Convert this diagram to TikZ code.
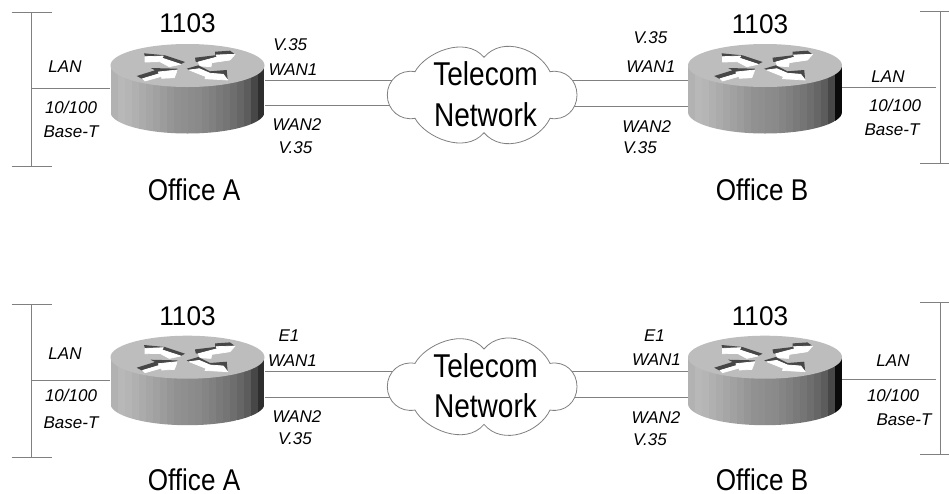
\documentclass[tikz,border=0pt]{standalone}
\usepackage{fontspec}
\setmainfont{Liberation Sans}
\definecolor{wiregray}{HTML}{808080}
\definecolor{topgray}{HTML}{BDBDBD}
\tikzset{
  wire/.style={draw=wiregray,line width=0.9pt},
  cloudline/.style={draw=wiregray,line width=0.8pt,fill=white},
  arrowface/.style={fill=white,draw=white,line width=.7pt,line join=round},
  arrowedge/.style={fill=black!72},
  portlabel/.style={anchor=base,inner sep=0pt,font=\fontsize{17}{17}\selectfont\itshape},
  modellabel/.style={anchor=base,inner sep=0pt,font=\fontsize{27}{27}\selectfont,transform shape,xscale=.97},
  officelabel/.style={anchor=base,inner sep=0pt,text depth=0pt,font=\fontsize{30}{30}\selectfont,transform shape,xscale=.87},
  netlabel/.style={anchor=base,inner sep=0pt,font=\fontsize{33}{33}\selectfont,transform shape,xscale=.85},
  routerbox/.style={inner sep=0pt,minimum width=154pt,minimum height=89.5pt},
  cloudbox/.style={inner sep=0pt,minimum width=190pt,minimum height=95pt},
  routerpic/.pic={
    \path[clip] (-77,0) -- (-77,46.5) .. controls (-77,58.4) and (-42.5,68) .. (0,68)
       .. controls (42.5,68) and (77,58.4) .. (77,46.5) -- (77,0) -- cycle;
    \foreach \v [count=\i from 0] in {70,72,71,69,67,65,63,61,59,57,56,55,54,52,50,48,46,43,40,36,28,#1}{
      \fill[white!\v!black] ({-77+\i*7},0) rectangle ({-77+(\i+1)*7+.3},70);
    }
    },
  routertop/.pic={
    \fill[topgray] (0,0) ellipse [x radius=77pt,y radius=21.5pt];
    \fill[arrowedge] (-43.5,-12.2)--(-42.5,-8.8)--(-24.2,-9.5)--(-25.8,-7.5)--(-6.8,-1.2)--(-2.5,-3.5)--(-22.5,-10.2)--cycle;
    \path[arrowface] (-42.5,-8.8)--(-42.5,-3.5)--(-27.5,-3.8)--(-18.2,1.2)--(-6.8,-1.2)--(-25.8,-7.5)--(-24.2,-9.5)--cycle;
    \fill[arrowedge] (7.5,-7.8)--(8.2,-3.8)--(10.8,-3.5)--(29.8,-8.5)--(28.5,-10.5)--(47.5,-11.2)--(42.5,-14.8)--(27.5,-13.8)--(27.5,-10.2)--cycle;
    \path[arrowface] (12.5,.5)--(23.5,1.2)--(24.2,-2.8)--(42.5,-5.5)--(47.5,-11.2)--(28.5,-10.5)--(29.8,-8.5)--(10.8,-3.5)--cycle;
    \fill[arrowedge] (-50.8,10.5)--(-45.8,13.2)--(-28.2,8.2)--(-29.2,6.5)--(-10.2,5.8)--(-10.2,3.2)--(-36.8,2.5)--(-32.5,4.8)--cycle;
    \path[arrowface] (-44.8,13.2)--(-42.5,15.5)--(-25.8,10.8)--(-25.8,12.8)--(-13.2,12.2)--(-10.2,4.5)--(-29.2,6.5)--(-28.2,8.2)--cycle;
    \fill[arrowedge] (-.8,3.2)--(1.8,4.5)--(11.8,3.2)--(22.5,7.8)--(35.8,8.8)--(40.2,14.5)--(39.2,4.5)--(22.5,5.8)--(10.8,-.2)--cycle;
    \path[arrowface] (1.8,4.5)--(11.8,3.2)--(22.5,7.8)--(35.8,8.8)--(40.2,14.5)--(17.5,13.2)--(18.5,11.2)--cycle;
  },
  cloudpic/.pic={
    \path[cloudline] (-70,-23.3) .. controls (-60,-42) and (-20,-60) .. (-1,-37.7)
      .. controls (18,-60) and (55,-45) .. (65,-23.3)
      .. controls (80,-26) and (92,-15) .. (92,0)
      .. controls (92,15) and (80,26) .. (65,23.3)
      .. controls (55,45) and (18,60) .. (-1,37.7)
      .. controls (-20,60) and (-60,42) .. (-70,23.3)
      .. controls (-85,26) and (-97.7,15) .. (-97.7,0)
      .. controls (-97.7,-15) and (-85,-26) .. (-70,-23.3) -- cycle;
  }
}
\begin{document}
\begin{tikzpicture}[x=1pt,y=-1pt]
\useasboundingbox[fill=white] (0,0) rectangle (949,493);
% anchor nodes
\node[routerbox] (R1) at (187.5,88.75) {};
\node[routerbox] (R2) at (765,88.75) {};
\node[routerbox] (R3) at (187.5,380.45) {};
\node[routerbox] (R4) at (765,380.45) {};
\node[cloudbox] (C1) at (485,95) {};
\node[cloudbox] (C2) at (485,386.7) {};
% free ends
\coordinate (b1t) at (31.7,12.7);\coordinate (b1b) at (31.7,166);\coordinate (b1m) at (31.7,88.7);
\coordinate (b1tl) at (11.5,12.7);\coordinate (b1tr) at (52,12.7);\coordinate (b1bl) at (11.5,166);\coordinate (b1br) at (52,166);
\coordinate (b3t) at (31.7,304.3);\coordinate (b3b) at (31.7,457.7);\coordinate (b3m) at (31.7,380.3);
\coordinate (b3tl) at (11.5,304.3);\coordinate (b3tr) at (52,304.3);\coordinate (b3bl) at (11.5,457.7);\coordinate (b3br) at (52,457.7);
\coordinate (b2t) at (940,11);\coordinate (b2b) at (940,163.3);\coordinate (b2m) at (936,87.3);
\coordinate (b2tl) at (920,11);\coordinate (b2tr) at (949,11);\coordinate (b2bl) at (920,163.3);\coordinate (b2br) at (949,163.3);
\coordinate (b4t) at (940,302.7);\coordinate (b4b) at (940,454.3);\coordinate (b4m) at (936,379);
\coordinate (b4tl) at (920,302.7);\coordinate (b4tr) at (949,302.7);\coordinate (b4bl) at (920,454.3);\coordinate (b4br) at (949,454.3);
\coordinate (c1a) at (410,80.3);\coordinate (c1b) at (410,105.3);\coordinate (c1c) at (560,80.3);\coordinate (c1d) at (560,106);
\coordinate (c2a) at (410,371.7);\coordinate (c2b) at (410,397.3);\coordinate (c2c) at (560,371.7);\coordinate (c2d) at (560,397.3);
% bars
\foreach \n in {1,2,3,4}{
  \draw[wire] (b\n t) -- (b\n b);
  \draw[wire] (b\n tl) -- (b\n tr);
  \draw[wire] (b\n bl) -- (b\n br);
}
% connectors
\draw[wire] (b1m) -- (b1m -| R1.west);
\draw[wire] (b3m) -- (b3m -| R3.west);
\draw[wire] (b2m) -- (b2m -| R2.east);
\draw[wire] (b4m) -- (b4m -| R4.east);
\draw[wire] (c1a) -- (c1a -| R1.east);
\draw[wire] (c1b) -- (c1b -| R1.east);
\draw[wire] (c1c) -- (c1c -| R2.west);
\draw[wire] (c1d) -- (c1d -| R2.west);
\draw[wire] (c2a) -- (c2a -| R3.east);
\draw[wire] (c2b) -- (c2b -| R3.east);
\draw[wire] (c2c) -- (c2c -| R4.west);
\draw[wire] (c2d) -- (c2d -| R4.west);
% clouds
\pic at (485,95) {cloudpic};
\pic at (485,386.7) {cloudpic};
% routers
\pic at (187.5,65.5) {routerpic=18};
\pic at (765,65.5) {routerpic=4};
\pic at (187.5,357.2) {routerpic=18};
\pic at (765,357.2) {routerpic=4};
\pic at (187.5,65.5) {routertop};
\pic at (765,65.5) {routertop};
\pic at (187.5,357.2) {routertop};
\pic at (765,357.2) {routertop};
% network text
\node[netlabel] (t1) at (485.5,85.7) {Telecom};
\node[netlabel] (t2) at (485.5,126) {Network};
\node[netlabel] (t3) at (485.5,377.4) {Telecom};
\node[netlabel] (t4) at (485.5,417.7) {Network};
% models
\node[modellabel] (m1) at (187.5,32.7) {1103};
\node[modellabel] (m2) at (760,33.3) {1103};
\node[modellabel] (m3) at (187.5,325) {1103};
\node[modellabel] (m4) at (760,325) {1103};
% offices
\node[officelabel] (o1) at (194,200) {Office A};
\node[officelabel] (o2) at (762,200) {Office B};
\node[officelabel] (o3) at (194,490) {Office A};
\node[officelabel] (o4) at (762,490.7) {Office B};
% top-left
\node[portlabel] (a1) at (65,72.7) {LAN};
\node[portlabel] (a2) at (71,113.3) {10/100};
\node[portlabel] (a3) at (71,137.3) {Base-T};
\node[portlabel] (a4) at (290.3,50.7) {V.35};
\node[portlabel] (a5) at (293,75) {WAN1};
\node[portlabel] (a6) at (297,130) {WAN2};
\node[portlabel] (a7) at (295.5,153.3) {V.35};
% top-right
\node[portlabel] (l1) at (888,82.3) {LAN};
\node[portlabel] (l2) at (895,111) {10/100};
\node[portlabel] (l3) at (892,135) {Base-T};
\node[portlabel] (l4) at (650.5,43.3) {V.35};
\node[portlabel] (l5) at (650.8,72.7) {WAN1};
\node[portlabel] (l6) at (646.7,132.7) {WAN2};
\node[portlabel] (l7) at (640,153.3) {V.35};
% lower-left
\node[portlabel] (d1) at (65,359.3) {LAN};
\node[portlabel] (d2) at (71,401) {10/100};
\node[portlabel] (d3) at (71,428.3) {Base-T};
\node[portlabel] (d4) at (289,341.7) {E1};
\node[portlabel] (d5) at (292.5,366) {WAN1};
\node[portlabel] (d6) at (297,422.7) {WAN2};
\node[portlabel] (d7) at (295,444.3) {V.35};
% lower-right
\node[portlabel] (e1) at (893,366.7) {LAN};
\node[portlabel] (e2) at (893,401.7) {10/100};
\node[portlabel] (e3) at (904,425) {Base-T};
\node[portlabel] (e4) at (654.5,341.7) {E1};
\node[portlabel] (e5) at (656.5,365) {WAN1};
\node[portlabel] (e6) at (656,423.3) {WAN2};
\node[portlabel] (e7) at (650,445) {V.35};
\end{tikzpicture}
\end{document}
